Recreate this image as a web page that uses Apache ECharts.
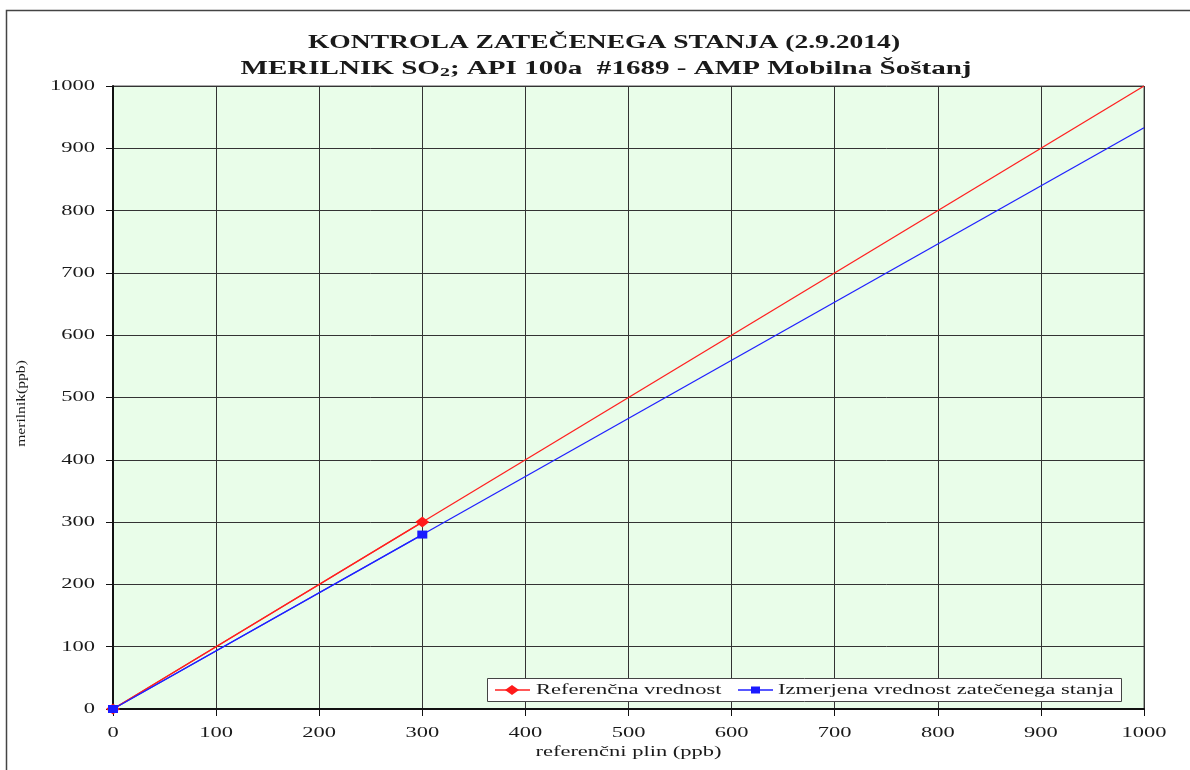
<!DOCTYPE html>
<html><head><meta charset="utf-8">
<script src="https://cdn.jsdelivr.net/npm/echarts@6/dist/echarts.min.js"></script>
<style>html,body{margin:0;padding:0;background:#fff}#c{width:1190px;height:770px}</style>
</head><body><div id="c"></div>
<script>
// Data
const refX = [0, 300];
const refY = [0, 300];
const measY = [0, 280];
const trendX = [0, 1000];
const refTrendY = [0, 1000];
const measTrendY = [0, 933];
const xTicks = [0, 100, 200, 300, 400, 500, 600, 700, 800, 900, 1000];
const yTicks = [0, 100, 200, 300, 400, 500, 600, 700, 800, 900, 1000];
const seriesNames = ['Referenčna vrednost', 'Izmerjena vrednost zatečenega stanja'];
const titleLine1 = 'KONTROLA ZATEČENEGA STANJA (2.9.2014)';
const titleLine2a = 'MERILNIK SO';
const titleLine2sub = '2';
const titleLine2b = '; API 100a  #1689 - AMP Mobilna Šoštanj';
const xName = 'referenčni plin (ppb)';
const yName = 'merilnik(ppb)';

const FONT = "'Liberation Serif','Times New Roman',serif";
const TXT = '#1a1a1a';
const RED = '#ff2020', BLUE = '#2020ff';
const SX = 1.5; // horizontal stretch of the reference text
const pair = (xs, ys) => xs.map((x, i) => [x, ys[i]]);

const chart = echarts.init(document.getElementById('c'));
const baseOption = {
  animation: false,
  backgroundColor: '#fff',
  textStyle: { fontFamily: FONT },
  grid: {
    left: 113, right: 46, top: 86, bottom: 61, show: true,
    backgroundColor: '#e9fde9', borderColor: '#555', borderWidth: 1
  },
  xAxis: {
    type: 'value', min: 0, max: 1000, interval: 100,
    axisLine: { show: true, onZero: false, lineStyle: { color: '#111', width: 2 } },
    axisTick: { show: true, length: 7, lineStyle: { color: '#111', width: 1 } },
    axisLabel: { show: false },
    splitLine: { show: true, lineStyle: { color: '#333', width: 1 } }
  },
  yAxis: {
    type: 'value', min: 0, max: 1000, interval: 100,
    axisLine: { show: true, onZero: false, lineStyle: { color: '#111', width: 2 } },
    axisTick: { show: true, length: 7, lineStyle: { color: '#111', width: 1 } },
    axisLabel: { show: false },
    splitLine: { show: true, lineStyle: { color: '#333', width: 1 } }
  },
  series: [
    { name: 'refTrend', type: 'line', data: pair(trendX, refTrendY), showSymbol: false, symbol: 'none',
      lineStyle: { color: RED, width: 1.3 }, silent: true, z: 3 },
    { name: 'measTrend', type: 'line', data: pair(trendX, measTrendY), showSymbol: false, symbol: 'none',
      lineStyle: { color: BLUE, width: 1.3 }, silent: true, z: 3 },
    { name: seriesNames[0], type: 'line', data: pair(refX, refY), symbol: 'diamond', symbolSize: [14, 11],
      itemStyle: { color: '#ff1a1a' }, lineStyle: { color: RED, width: 1.3 }, z: 4 },
    { name: seriesNames[1], type: 'line', data: pair(refX, measY), symbol: 'rect', symbolSize: [10, 8],
      itemStyle: { color: '#1a1aff' }, lineStyle: { color: BLUE, width: 1.3 }, z: 5 }
  ]
};
chart.setOption(baseOption);

function stext(x, y, text, font, opts) {
  opts = opts || {};
  return {
    type: 'text', x: x, y: y, scaleX: opts.sx || SX, rotation: opts.rot || 0, z: 100, silent: true,
    style: Object.assign({ x: 0, y: 0, text: text, font: font, fill: TXT,
      align: opts.align || 'center', textAlign: opts.align || 'center',
      verticalAlign: 'middle', textVerticalAlign: 'middle' }, opts.style || {})
  };
}

const g = [];
// outer frame
g.push({ type: 'rect', shape: { x: 6.5, y: 10.5, width: 1200, height: 800 },
  style: { fill: 'none', stroke: '#444', lineWidth: 1.5 }, silent: true, z: -1 });
// title
g.push(stext(604, 43, titleLine1, 'bold 19px ' + FONT, { sx: 1.45 }));
g.push({
  type: 'text', x: 606, y: 69, scaleX: 1.53, z: 100, silent: true,
  style: {
    x: 0, y: 0, align: 'center', textAlign: 'center', verticalAlign: 'middle', textVerticalAlign: 'middle',
    text: '{m|' + titleLine2a + '}{s|' + titleLine2sub + '}{m|' + titleLine2b + '}',
    rich: {
      m: { font: 'bold 19px ' + FONT, fill: TXT, fontFamily: FONT, fontSize: 19, fontWeight: 'bold', color: TXT },
      s: { font: 'bold 13px ' + FONT, fill: TXT, fontFamily: FONT, fontSize: 13, fontWeight: 'bold', color: TXT, padding: [8, 0, 0, 0] }
    }
  }
});
// tick labels via the axis scales
xTicks.forEach(v => {
  const p = chart.convertToPixel({ gridIndex: 0 }, [v, 0]);
  g.push(stext(p[0], p[1] + 24, String(v), '15px ' + FONT));
});
yTicks.forEach(v => {
  const p = chart.convertToPixel({ gridIndex: 0 }, [0, v]);
  g.push(stext(p[0] - 18, p[1], String(v), '15px ' + FONT, { align: 'right' }));
});
// axis names
const xc = chart.convertToPixel({ gridIndex: 0 }, [500, 0]);
g.push(stext(xc[0], 752, xName, '15px ' + FONT));
const yc = chart.convertToPixel({ gridIndex: 0 }, [0, 500]);
g.push(stext(22, yc[1] + 6, yName, '13px ' + FONT, { sx: 1.2, rot: Math.PI / 2 }));
// legend
const LY = 690;
g.push({ type: 'rect', shape: { x: 487.5, y: 678.5, width: 634, height: 23 },
  style: { fill: '#fff', stroke: '#444', lineWidth: 1 }, z: 90, silent: true });
g.push({ type: 'line', shape: { x1: 495, y1: LY, x2: 530, y2: LY }, style: { stroke: RED, lineWidth: 1.3 }, z: 95, silent: true });
g.push({ type: 'polygon', shape: { points: [[505, LY], [512, LY - 5], [519, LY], [512, LY + 5]] }, style: { fill: '#ff1a1a' }, z: 96, silent: true });
g.push(stext(536, LY, seriesNames[0], '15px ' + FONT, { align: 'left' }));
g.push({ type: 'line', shape: { x1: 738, y1: LY, x2: 773, y2: LY }, style: { stroke: BLUE, lineWidth: 1.3 }, z: 95, silent: true });
g.push({ type: 'rect', shape: { x: 751, y: LY - 3.5, width: 9, height: 7 }, style: { fill: '#1a1aff' }, z: 96, silent: true });
g.push(stext(778, LY, seriesNames[1], '15px ' + FONT, { align: 'left' }));

chart.setOption({ graphic: g });
</script></body></html>
